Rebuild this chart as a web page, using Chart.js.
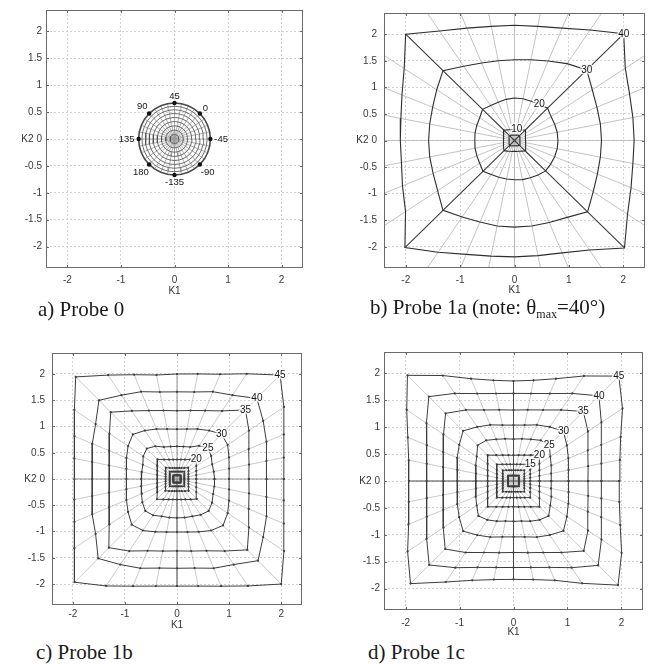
<!DOCTYPE html>
<html>
<head>
<meta charset="utf-8">
<title>Probe K-space maps</title>
<script src="https://cdn.jsdelivr.net/npm/chart.js@4/dist/chart.umd.min.js"></script>
<style>
  html, body { margin: 0; padding: 0; background: #fff; }
  #page { position: relative; width: 652px; height: 664px; overflow: hidden; background: #fff; }
  canvas { position: absolute; }
  .cap { position: absolute; font-family: "Liberation Serif", "Times New Roman", serif; font-size: 21px; line-height: 21px; color: #1a1a1a; white-space: nowrap; }
  .cap sub { font-size: 12px; vertical-align: baseline; position: relative; top: 4px; }
</style>
</head>
<body>
<div id="page">
  <canvas id="pa" width="307" height="300" style="left:0px;top:0px"></canvas>
  <canvas id="pb" width="319" height="300" style="left:330px;top:0px"></canvas>
  <canvas id="pc" width="306" height="300" style="left:0px;top:330px"></canvas>
  <canvas id="pd" width="317" height="305" style="left:330px;top:330px"></canvas>
  <div class="cap" style="left:38px;top:299px">a) Probe 0</div>
  <div class="cap" style="left:370px;top:297px">b) Probe 1a (note: θ<sub>max</sub>=40°)</div>
  <div class="cap" style="left:36px;top:642px">c) Probe 1b</div>
  <div class="cap" style="left:368px;top:642px">d) Probe 1c</div>
</div>
<script>
// ---- shared axes ----
const X_TICKS = [-2, -1, 0, 1, 2];
const Y_TICKS = [-2, -1.5, -1, -0.5, 0, 0.5, 1, 1.5, 2];
const AXIS_MIN = -2.4;
const AXIS_MAX = 2.4;

// sampling directions (degrees, in the K1-K2 plane) of every iso-theta contour;
// the phi-lines run through the contour points along these directions
const DIRECTIONS_DEG = [0, 11.25, 22.5, 33.75, 45, 56.25, 67.5, 78.75,
  90, 101.25, 112.5, 123.75, 135, 146.25, 157.5, 168.75,
  180, 191.25, 202.5, 213.75, 225, 236.25, 247.5, 258.75,
  270, 281.25, 292.5, 303.75, 315, 326.25, 337.5, 348.75];

// ---- a) Probe 0 : circular rings ----
const probe0Theta = [5, 10, 15, 20, 25, 30, 35, 40, 45];
const probe0RingRadius = [0.083, 0.165, 0.245, 0.324, 0.40, 0.474, 0.544, 0.609, 0.67];
// phi labels at 0, 45, 90 ... 315 degrees of the plot plane
const probe0PhiLabels = ["-45", "0", "45", "90", "135", "180", "-135", "-90"];

// ---- b) Probe 1a : contour radius at each direction ----
const probe1aTheta = [5, 10, 20, 30, 40];
const probe1aLabeled = [10, 20, 30, 40];
const probe1a_t5  = [0.10,0.10,0.11,0.12,0.13,0.12,0.11,0.10, 0.10,0.10,0.11,0.12,0.13,0.12,0.11,0.10, 0.10,0.10,0.11,0.12,0.13,0.12,0.11,0.10, 0.10,0.10,0.11,0.12,0.13,0.12,0.11,0.10];
const probe1a_t10 = [0.21,0.21,0.22,0.24,0.28,0.24,0.22,0.21, 0.21,0.21,0.22,0.24,0.28,0.24,0.22,0.21, 0.20,0.21,0.22,0.24,0.27,0.24,0.22,0.21, 0.20,0.21,0.22,0.24,0.28,0.24,0.22,0.21];
const probe1a_t20 = [0.80,0.80,0.80,0.81,0.86,0.82,0.80,0.80, 0.80,0.79,0.78,0.79,0.83,0.77,0.75,0.74, 0.73,0.74,0.75,0.77,0.82,0.77,0.75,0.74, 0.74,0.75,0.76,0.78,0.81,0.80,0.80,0.80];
const probe1a_t30 = [1.60,1.61,1.64,1.72,1.88,1.74,1.62,1.55, 1.52,1.53,1.58,1.68,1.86,1.72,1.63,1.59, 1.58,1.59,1.62,1.70,1.86,1.73,1.66,1.64, 1.63,1.64,1.67,1.74,1.90,1.74,1.65,1.61];
const probe1a_t40 = [2.20,2.22,2.29,2.45,2.84,2.50,2.29,2.19, 2.17,2.19,2.29,2.48,2.83,2.44,2.24,2.13, 2.10,2.12,2.23,2.41,2.85,2.53,2.32,2.22, 2.19,2.21,2.29,2.48,2.86,2.50,2.32,2.22];

// ---- c) Probe 1b ----
const probe1bTheta = [5, 10, 15, 20, 25, 30, 35, 40, 45];
const probe1bLabeled = [20, 25, 30, 35, 40, 45];
const probe1b_t5  = [0.070,0.071,0.076,0.084,0.099,0.084,0.076,0.071, 0.070,0.071,0.076,0.084,0.099,0.084,0.076,0.071, 0.070,0.071,0.076,0.084,0.099,0.084,0.076,0.071, 0.070,0.071,0.076,0.084,0.099,0.084,0.076,0.071];
const probe1b_t10 = [0.140,0.143,0.152,0.168,0.198,0.168,0.152,0.143, 0.140,0.143,0.152,0.168,0.198,0.168,0.152,0.143, 0.140,0.143,0.152,0.168,0.198,0.168,0.152,0.143, 0.140,0.143,0.152,0.168,0.198,0.168,0.152,0.143];
const probe1b_t15 = [0.220,0.224,0.238,0.265,0.304,0.253,0.227,0.214, 0.210,0.214,0.227,0.253,0.304,0.265,0.238,0.224, 0.220,0.224,0.238,0.265,0.318,0.277,0.249,0.235, 0.230,0.235,0.249,0.277,0.318,0.265,0.238,0.224];
const probe1b_t20 = [0.370,0.377,0.400,0.445,0.523,0.445,0.400,0.377, 0.370,0.377,0.400,0.445,0.530,0.457,0.411,0.387, 0.380,0.387,0.411,0.457,0.545,0.469,0.422,0.398, 0.390,0.398,0.422,0.469,0.538,0.445,0.400,0.377];
const probe1b_t25 = [0.72,0.72,0.73,0.79,0.84,0.76,0.66,0.63, 0.62,0.63,0.66,0.75,0.82,0.78,0.71,0.69, 0.69,0.70,0.73,0.80,0.86,0.83,0.77,0.75, 0.74,0.75,0.77,0.82,0.86,0.81,0.75,0.73];
const probe1b_t30 = [1.00,1.02,1.08,1.17,1.21,1.11,1.03,0.97, 0.95,0.97,1.03,1.11,1.20,1.13,1.05,0.99, 0.97,0.99,1.05,1.13,1.23,1.18,1.09,1.03, 1.01,1.03,1.09,1.18,1.25,1.17,1.08,1.02];
const probe1b_t35 = [1.38,1.41,1.49,1.66,1.86,1.56,1.41,1.33, 1.30,1.33,1.41,1.56,1.80,1.56,1.41,1.33, 1.30,1.33,1.41,1.56,1.85,1.65,1.48,1.40, 1.37,1.40,1.48,1.65,1.91,1.66,1.49,1.41];
const probe1b_t40 = [1.72,1.75,1.86,1.99,2.17,1.92,1.80,1.69, 1.66,1.69,1.80,1.92,2.12,1.88,1.76,1.66, 1.63,1.66,1.76,1.88,2.14,1.96,1.84,1.73, 1.70,1.73,1.84,1.96,2.20,1.99,1.86,1.75];
const probe1b_t45 = [2.05,2.09,2.22,2.47,2.80,2.41,2.16,2.04, 2.00,2.02,2.15,2.38,2.75,2.37,2.13,2.01, 1.97,2.01,2.13,2.37,2.78,2.45,2.21,2.08, 2.04,2.08,2.21,2.45,2.83,2.47,2.22,2.09];

// ---- d) Probe 1c ----
const probe1cTheta = [5, 10, 15, 20, 25, 30, 35, 40, 45];
const probe1cLabeled = [15, 20, 25, 30, 35, 40, 45];
const probe1c_t5  = [0.100,0.102,0.108,0.120,0.141,0.120,0.108,0.102, 0.100,0.102,0.108,0.120,0.141,0.120,0.108,0.102, 0.100,0.102,0.108,0.120,0.141,0.120,0.108,0.102, 0.100,0.102,0.108,0.120,0.141,0.120,0.108,0.102];
const probe1c_t10 = [0.200,0.204,0.216,0.241,0.283,0.241,0.216,0.204, 0.200,0.204,0.216,0.241,0.283,0.241,0.216,0.204, 0.200,0.204,0.216,0.241,0.283,0.241,0.216,0.204, 0.200,0.204,0.216,0.241,0.283,0.241,0.216,0.204];
const probe1c_t15 = [0.310,0.316,0.336,0.373,0.438,0.373,0.336,0.316, 0.310,0.316,0.336,0.373,0.438,0.373,0.336,0.316, 0.310,0.316,0.336,0.373,0.438,0.373,0.336,0.316, 0.310,0.316,0.336,0.373,0.438,0.373,0.336,0.316];
const probe1c_t20 = [0.480,0.489,0.520,0.577,0.679,0.577,0.520,0.489, 0.480,0.489,0.520,0.577,0.679,0.577,0.520,0.489, 0.480,0.489,0.520,0.577,0.679,0.577,0.520,0.489, 0.480,0.489,0.520,0.577,0.679,0.577,0.520,0.489];
const probe1c_t25 = [0.70,0.71,0.76,0.82,0.94,0.91,0.84,0.80, 0.78,0.80,0.84,0.91,0.94,0.82,0.76,0.71, 0.70,0.71,0.76,0.82,0.92,0.87,0.81,0.76, 0.75,0.76,0.81,0.87,0.92,0.82,0.76,0.71];
const probe1c_t30 = [1.02,1.04,1.10,1.19,1.31,1.21,1.13,1.06, 1.04,1.06,1.13,1.21,1.32,1.21,1.13,1.06, 1.04,1.06,1.13,1.21,1.32,1.21,1.13,1.06, 1.04,1.06,1.13,1.21,1.31,1.19,1.10,1.04];
const probe1c_t35 = [1.38,1.41,1.49,1.66,1.83,1.59,1.43,1.35, 1.32,1.35,1.43,1.59,1.78,1.56,1.41,1.33, 1.30,1.33,1.41,1.56,1.79,1.60,1.44,1.36, 1.33,1.36,1.44,1.60,1.84,1.66,1.49,1.41];
const probe1c_t40 = [1.63,1.66,1.76,1.96,2.24,1.96,1.76,1.66, 1.63,1.66,1.76,1.96,2.22,1.94,1.74,1.64, 1.61,1.64,1.74,1.94,2.21,1.94,1.74,1.64, 1.61,1.64,1.74,1.94,2.22,1.96,1.76,1.66];
const probe1c_t45 = [1.96,2.01,2.15,2.43,2.76,2.35,2.06,1.91, 1.86,1.91,2.06,2.36,2.78,2.38,2.12,1.98, 1.94,1.98,2.11,2.36,2.70,2.26,2.00,1.87, 1.83,1.87,2.00,2.29,2.74,2.41,2.14,2.00];

// ---- drawing helpers ----
Chart.defaults.font.family = '"Liberation Sans", Arial, sans-serif';
Chart.defaults.color = '#333';

function toXY(r, deg) {
  const a = deg * Math.PI / 180;
  return { x: r * Math.cos(a), y: r * Math.sin(a) };
}
function closedRing(radii) {
  const pts = radii.map((r, k) => toXY(r, DIRECTIONS_DEG[k]));
  pts.push(pts[0]);
  return pts;
}

// axis box, inward tick marks and the K1 / K2 axis names
const framePlugin = {
  id: 'frame',
  afterDraw(chart, args, opts) {
    const { ctx, chartArea: a, scales } = chart;
    ctx.save();
    ctx.strokeStyle = '#6a6a6a';
    ctx.lineWidth = 1;
    ctx.strokeRect(Math.round(a.left) + 0.5, Math.round(a.top) + 0.5,
      Math.round(a.right - a.left) - 1, Math.round(a.bottom - a.top) - 1);
    ctx.beginPath();
    X_TICKS.forEach(v => {
      const px = Math.round(scales.x.getPixelForValue(v)) + 0.5;
      ctx.moveTo(px, a.bottom); ctx.lineTo(px, a.bottom - 3);
      ctx.moveTo(px, a.top); ctx.lineTo(px, a.top + 3);
    });
    Y_TICKS.forEach(v => {
      const py = Math.round(scales.y.getPixelForValue(v)) + 0.5;
      ctx.moveTo(a.left, py); ctx.lineTo(a.left + 3, py);
      ctx.moveTo(a.right, py); ctx.lineTo(a.right - 3, py);
    });
    ctx.stroke();
    ctx.font = '10px "Liberation Sans", Arial, sans-serif';
    ctx.fillStyle = '#333';
    ctx.textAlign = 'center';
    ctx.textBaseline = 'middle';
    ctx.fillText('K1', scales.x.getPixelForValue(0), a.bottom + opts.k1Offset);
    ctx.textAlign = 'right';
    const zeroW = ctx.measureText('0').width;
    ctx.fillText('K2', a.left - opts.yPad - zeroW - 3, scales.y.getPixelForValue(0));
    ctx.restore();
  }
};

// text labels anchored on contour points / around the outer ring
const labelPlugin = {
  id: 'contourLabels',
  afterDatasetsDraw(chart, args, opts) {
    const { ctx, scales } = chart;
    ctx.save();
    ctx.font = opts.font;
    ctx.textBaseline = 'middle';
    ctx.textAlign = 'center';
    const cx = scales.x.getPixelForValue(0), cy = scales.y.getPixelForValue(0);
    opts.items.forEach(it => {
      const p = toXY(it.r, it.deg);
      let px = scales.x.getPixelForValue(p.x), py = scales.y.getPixelForValue(p.y);
      if (it.outward) {
        const a = it.deg * Math.PI / 180;
        const w = ctx.measureText(it.text).width;
        const off = 4 + Math.abs(Math.cos(a)) * w / 2 + Math.abs(Math.sin(a)) * 3;
        px += Math.cos(a) * off;
        py -= Math.sin(a) * off;
      }
      if (opts.halo) {
        ctx.lineWidth = 3;
        ctx.strokeStyle = 'rgba(255,255,255,0.8)';
        ctx.strokeText(it.text, px, py);
      }
      ctx.fillStyle = '#151515';
      ctx.fillText(it.text, px, py);
    });
    ctx.restore();
  }
};

function makeChart(id, layout, datasets, labelOpts) {
  const tickFont = { size: 10, family: '"Liberation Sans", Arial, sans-serif' };
  return new Chart(document.getElementById(id), {
    type: 'scatter',
    data: { datasets },
    options: {
      responsive: false,
      animation: false,
      events: [],
      layout: { padding: { top: layout.padTop, right: layout.padRight, left: 0, bottom: 0 } },
      plugins: {
        legend: { display: false },
        tooltip: { enabled: false },
        frame: { k1Offset: layout.k1Offset, yPad: layout.yPad },
        contourLabels: labelOpts
      },
      scales: {
        x: {
          type: 'linear', min: AXIS_MIN, max: AXIS_MAX,
          afterBuildTicks: s => { s.ticks = X_TICKS.map(v => ({ value: v })); },
          afterFit: s => { s.height = layout.xh; },
          ticks: { font: tickFont, color: '#3a3a3a', padding: layout.xPad, maxRotation: 0, autoSkip: false, callback: v => String(v) },
          grid: { color: '#d2d2d2', lineWidth: 1, drawTicks: false },
          border: { display: false, dash: [2, 2] }
        },
        y: {
          type: 'linear', min: AXIS_MIN, max: AXIS_MAX,
          afterBuildTicks: s => { s.ticks = Y_TICKS.map(v => ({ value: v })); },
          afterFit: s => { s.width = layout.yw; },
          ticks: { font: tickFont, color: '#3a3a3a', padding: layout.yPad, autoSkip: false, callback: v => String(v) },
          grid: { color: '#d2d2d2', lineWidth: 1, drawTicks: false },
          border: { display: false, dash: [2, 2] }
        }
      }
    },
    plugins: [framePlugin, labelPlugin]
  });
}

// contours (inner to outer) + phi-lines through their points
function webDatasets(rings, style) {
  const ds = [];
  const outer = rings[rings.length - 1];
  DIRECTIONS_DEG.forEach((deg, k) => {
    const dark = style.darkDirs.includes(k);
    const pts = [{ x: 0, y: 0 }];
    rings.forEach(r => pts.push(toXY(r[k], deg)));
    if (style.extend && !dark) pts.push(toXY(outer[k] * 1.7, deg));
    ds.push({
      data: pts, showLine: true, pointRadius: 0, tension: 0,
      borderColor: dark ? style.darkColor : style.radialColor,
      borderWidth: dark ? style.darkWidth : style.radialWidth,
      order: dark ? 2 : 3
    });
  });
  rings.forEach((r, i) => {
    const last = i === rings.length - 1;
    ds.push({
      data: closedRing(r), showLine: true, tension: 0,
      borderColor: style.contourColor,
      borderWidth: last ? style.outerWidth : style.contourWidth,
      pointRadius: style.markerRadius, pointBorderWidth: 0,
      pointBackgroundColor: style.contourColor,
      order: 1
    });
  });
  return ds;
}

function contourLabels(thetas, rings, labeled, dirIndex) {
  return labeled.map(t => {
    const i = thetas.indexOf(t);
    return { text: String(t), r: rings[i][dirIndex], deg: DIRECTIONS_DEG[dirIndex] };
  });
}

// ---- a) Probe 0 ----
(function () {
  const rings = probe0RingRadius.map(r => DIRECTIONS_DEG.map(() => r));
  const ds = webDatasets(rings, {
    darkDirs: [], radialColor: '#9a9a9a', radialWidth: 0.8, darkColor: '#333', darkWidth: 1,
    contourColor: '#4a4a4a', contourWidth: 0.8, outerWidth: 1.6, markerRadius: 0, extend: false
  });
  const outerR = probe0RingRadius[probe0RingRadius.length - 1];
  const dots = probe0PhiLabels.map((_, i) => toXY(outerR, i * 45));
  ds.push({ data: dots, showLine: false, pointRadius: 2.2, pointBorderWidth: 0, pointBackgroundColor: '#111', order: 0 });
  const items = probe0PhiLabels.map((t, i) => ({ text: t, r: outerR, deg: i * 45, outward: true }));
  makeChart('pa', { padTop: 9, padRight: 4, yw: 46, xh: 32, yPad: 4, xPad: 6, k1Offset: 23 }, ds,
    { items, font: '9.5px "Liberation Sans", Arial, sans-serif', halo: false });
})();

// ---- b) Probe 1a ----
(function () {
  const rings = [probe1a_t5, probe1a_t10, probe1a_t20, probe1a_t30, probe1a_t40];
  const ds = webDatasets(rings, {
    darkDirs: [4, 12, 20, 28], radialColor: '#b4b4b4', radialWidth: 0.8, darkColor: '#3a3a3a', darkWidth: 1.1,
    contourColor: '#2e2e2e', contourWidth: 1.1, outerWidth: 1.1, markerRadius: 0, extend: true
  });
  const items = [
    ...contourLabels(probe1aTheta, rings, [10], 7),
    ...contourLabels(probe1aTheta, rings, [20], 5),
    ...contourLabels(probe1aTheta, rings, [30, 40], 4)
  ];
  makeChart('pb', { padTop: 8, padRight: 4, yw: 54, xh: 32, yPad: 7, xPad: 6, k1Offset: 22 }, ds,
    { items, font: '10px "Liberation Sans", Arial, sans-serif', halo: true });
})();

// ---- c) Probe 1b ----
(function () {
  const rings = [probe1b_t5, probe1b_t10, probe1b_t15, probe1b_t20, probe1b_t25,
    probe1b_t30, probe1b_t35, probe1b_t40, probe1b_t45];
  const ds = webDatasets(rings, {
    darkDirs: [0, 8, 16, 24], radialColor: '#bdbdbd', radialWidth: 0.8, darkColor: '#8a8a8a', darkWidth: 0.9,
    contourColor: '#3c3c3c', contourWidth: 1, outerWidth: 1, markerRadius: 1.1, extend: false
  });
  const items = contourLabels(probe1bTheta, rings, probe1bLabeled, 4);
  makeChart('pc', { padTop: 23, padRight: 4, yw: 52, xh: 25, yPad: 7, xPad: 3, k1Offset: 20 }, ds,
    { items, font: '10px "Liberation Sans", Arial, sans-serif', halo: true });
})();

// ---- d) Probe 1c ----
(function () {
  const rings = [probe1c_t5, probe1c_t10, probe1c_t15, probe1c_t20, probe1c_t25,
    probe1c_t30, probe1c_t35, probe1c_t40, probe1c_t45];
  const ds = webDatasets(rings, {
    darkDirs: [0, 8, 16, 24], radialColor: '#bdbdbd', radialWidth: 0.8, darkColor: '#4a4a4a', darkWidth: 1,
    contourColor: '#3c3c3c', contourWidth: 1, outerWidth: 1, markerRadius: 1.1, extend: false
  });
  const items = contourLabels(probe1cTheta, rings, probe1cLabeled, 4);
  makeChart('pd', { padTop: 22, padRight: 4, yw: 54, xh: 25, yPad: 4, xPad: 7, k1Offset: 22 }, ds,
    { items, font: '10px "Liberation Sans", Arial, sans-serif', halo: true });
})();
</script>
</body>
</html>
